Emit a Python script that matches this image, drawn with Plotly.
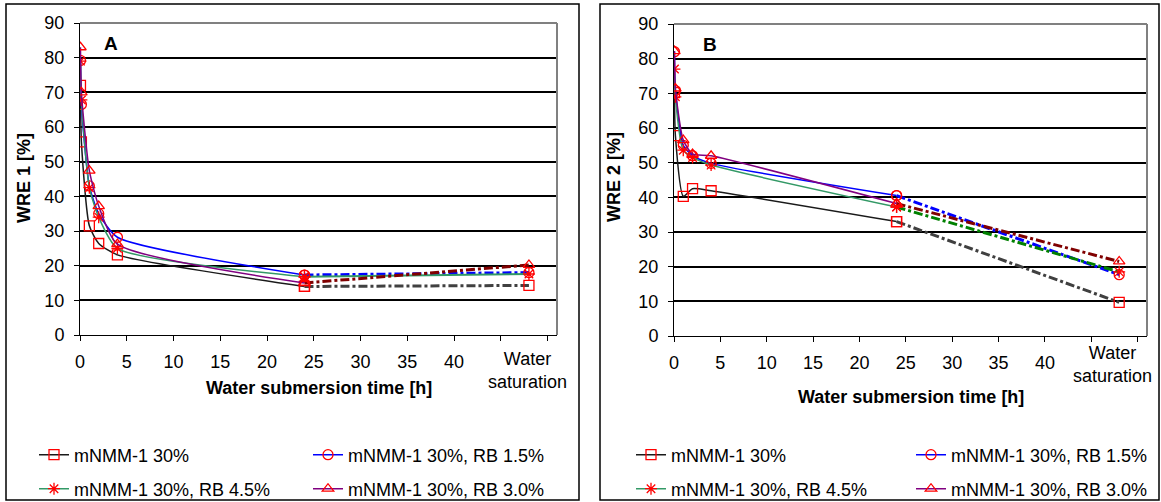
import plotly.graph_objects as go

FONT = "Liberation Sans, Arial, sans-serif"
W, H = 1161, 502

# ---------------- data ----------------
TIME_H = [0.05, 0.15, 1, 2, 4, 24]      # water submersion time [h]
WS_X = 48                                # axis position used for "Water saturation"
X_TICKS = [0, 5, 10, 15, 20, 25, 30, 35, 40, 45, 50]
X_TICKTEXT = ["0", "5", "10", "15", "20", "25", "30", "35", "40", "", ""]
Y_TICKS = [0, 10, 20, 30, 40, 50, 60, 70, 80, 90]

NAMES = ["mNMM-1 30%", "mNMM-1 30%, RB 1.5%", "mNMM-1 30%, RB 4.5%", "mNMM-1 30%, RB 3.0%"]

# Panel A: WRE 1 [%]
A_M30 = [72.0, 55.7, 31.5, 26.4, 23.1, 14.0]
A_RB15 = [79.2, 66.5, 43.0, 35.0, 28.2, 17.3]
A_RB45 = [79.0, 67.8, 42.5, 34.0, 25.0, 16.8]
A_RB30 = [83.0, 70.0, 47.4, 37.2, 26.2, 15.0]
A_WS = [14.3, 18.0, 17.6, 20.2]   # water saturation values (same order as NAMES)

# Panel B: WRE 2 [%]
B_M30 = [70.2, 57.8, 40.3, 42.5, 41.9, 33.0]
B_RB15 = [82.0, 70.8, 55.0, 52.0, 49.8, 40.5]
B_RB45 = [77.0, 69.0, 53.6, 51.5, 49.3, 37.2]
B_RB30 = [82.2, 71.4, 56.5, 52.5, 52.0, 38.2]
B_WS = [9.7, 17.7, 18.5, 21.5]

# ---------------- styles ----------------
LINE_COLORS = ["#1a1a1a", "#0000FF", "#339966", "#800080"]
SYMBOLS = ["square-open", "circle-open", "asterisk-open", "triangle-up-open"]
A_TAIL = [("#404040", "dashdot"), ("#0000FF", "dashdot"), ("#339966", "solid"), ("#800000", "dashdot")]
B_TAIL = [("#404040", "dashdot"), ("#0000FF", "dashdot"), ("#008000", "dashdot"), ("#800000", "dashdot")]

fig = go.Figure()

panels = [
    ("x", "y", [A_M30, A_RB15, A_RB45, A_RB30], A_WS, A_TAIL, 0),
    ("x2", "y2", [B_M30, B_RB15, B_RB45, B_RB30], B_WS, B_TAIL, 4),
]
# legend positions (pixels of legend-text start): column, row
LEG_POS_A = [(78, 455), (352, 455), (78, 489), (352, 489)]
LEG_POS_B = [(675, 455), (955, 455), (675, 489), (955, 489)]

MARK = lambda s: dict(symbol=s, size=10, color="#FF0000", line=dict(color="#FF0000", width=1.3))

for xa, ya, series, ws, tails, off in panels:
    for i, vals in enumerate(series):
        tc, td = tails[i]
        fig.add_trace(go.Scatter(
            x=[TIME_H[-1], WS_X], y=[vals[-1], ws[i]], xaxis=xa, yaxis=ya,
            mode="lines+markers", showlegend=False,
            line=dict(color=tc, width=3 if td != "solid" else 2, dash=td),
            marker=MARK(SYMBOLS[i]),
        ))
    for i, vals in enumerate(series):
        fig.add_trace(go.Scatter(
            x=TIME_H, y=vals, xaxis=xa, yaxis=ya, name=NAMES[i],
            mode="lines+markers", line=dict(color=LINE_COLORS[i], width=1.5, shape="spline", smoothing=0.6),
            marker=MARK(SYMBOLS[i]),
            legend="legend" if off + i == 0 else f"legend{off + i + 1}",
        ))

legends = {}
for k, (px, py) in enumerate(LEG_POS_A + LEG_POS_B):
    key = "legend" if k == 0 else f"legend{k + 1}"
    legends[key] = dict(x=(px - 44) / W, y=1 - py / H, xanchor="left", yanchor="middle",
                        bgcolor="rgba(0,0,0,0)", font=dict(family=FONT, size=18, color="#000"),
                        borderwidth=0)

axis_common = dict(showline=True, linecolor="#000", linewidth=1, ticks="outside", ticklen=5,
                   tickcolor="#000", tickfont=dict(family=FONT, size=18, color="#000"),
                   zeroline=False, automargin=False)

fig.update_layout(
    template="none",
    width=W, height=H, margin=dict(l=0, r=0, t=0, b=0, autoexpand=False),
    paper_bgcolor="white", plot_bgcolor="white", showlegend=True,
    xaxis=dict(domain=[80 / W, 557 / W], range=[0, 51], tickvals=X_TICKS, ticktext=X_TICKTEXT,
               showgrid=False, anchor="y", ticklabelstandoff=5, **axis_common),
    yaxis=dict(domain=[1 - 335 / H, 1 - 23 / H], range=[0, 90], tickvals=Y_TICKS,
               showgrid=True, gridcolor="#000", gridwidth=2, anchor="x", ticklabelstandoff=6, **axis_common),
    xaxis2=dict(domain=[674 / W, 1147 / W], range=[0, 51], tickvals=X_TICKS, ticktext=X_TICKTEXT,
                showgrid=False, anchor="y2", ticklabelstandoff=5, **axis_common),
    yaxis2=dict(domain=[1 - 336 / H, 1 - 24 / H], range=[0, 90], tickvals=Y_TICKS,
                showgrid=True, gridcolor="#000", gridwidth=2, anchor="x2", ticklabelstandoff=6, **axis_common),
    **legends,
)

# outer panel frames and plot-area borders
fig.add_shape(type="rect", xref="paper", yref="paper", x0=6 / W, x1=579 / W, y0=1 - 500 / H, y1=1 - 4 / H,
              line=dict(color="#000", width=1.5), layer="below")
fig.add_shape(type="rect", xref="paper", yref="paper", x0=600 / W, x1=1159 / W, y0=1 - 500 / H, y1=1 - 4 / H,
              line=dict(color="#000", width=1.5), layer="below")
for xr, yr in [("x domain", "y domain"), ("x2 domain", "y2 domain")]:
    fig.add_shape(type="line", xref=xr, yref=yr, x0=0, x1=1, y0=1, y1=1, line=dict(color="#808080", width=2), layer="above")
    fig.add_shape(type="line", xref=xr, yref=yr, x0=1, x1=1, y0=0, y1=1, line=dict(color="#808080", width=2), layer="above")

ann_font = dict(family=FONT, size=18, color="#000")
bold = dict(family=FONT, size=18, color="#000", weight="bold")
for xa, ya, lab, xt_y, ws_x, ws_y, lab_x in [("x", "y", "A", 388, 47.8, 370, 3.3),
                                             ("x2", "y2", "B", 397, 47.3, 364, 3.9)]:
    fig.add_annotation(x=ws_x, xref=xa, y=1 - ws_y / H, yref="paper", text="Water<br>saturation",
                       showarrow=False, font=ann_font, align="center", xanchor="center", yanchor="middle")
    fig.add_annotation(x=0.5, xref=f"{xa} domain", y=1 - xt_y / H, yref="paper", text="Water submersion time [h]",
                       showarrow=False, font=bold, xanchor="center", yanchor="middle")
    fig.add_annotation(x=lab_x, xref=xa, y=84, yref=ya, text=lab, showarrow=False,
                       font=dict(family=FONT, size=19, color="#000", weight="bold"),
                       xanchor="center", yanchor="middle")
fig.add_annotation(x=24 / W, xref="paper", y=1 - 178 / H, yref="paper", text="WRE 1 [%]", textangle=-90,
                   showarrow=False, font=bold, xanchor="center", yanchor="middle")
fig.add_annotation(x=614 / W, xref="paper", y=1 - 177 / H, yref="paper", text="WRE 2 [%]", textangle=-90,
                   showarrow=False, font=bold, xanchor="center", yanchor="middle")

fig.write_html("out.html")
